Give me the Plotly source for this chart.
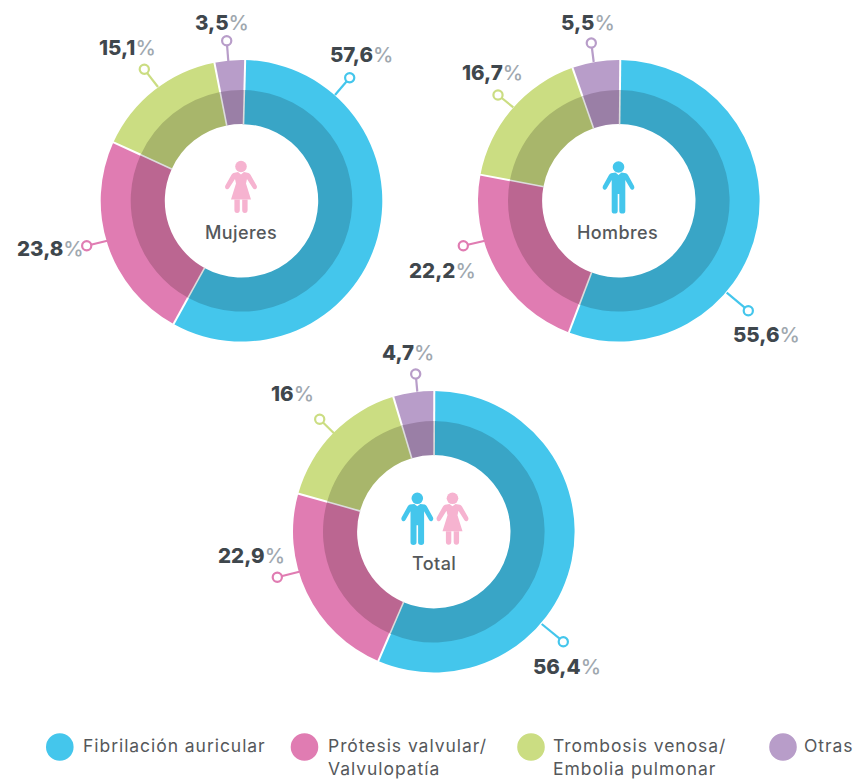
import math
import re
import plotly.graph_objects as go

W, H = 856, 780

categories = ["Fibrilación auricular", "Prótesis valvular/", "Trombosis venosa/", "Otras"]
legend_text = ["Fibrilación auricular", "Prótesis valvular/<br>Valvulopatía",
               "Trombosis venosa/<br>Embolia pulmonar", "Otras"]
mujeres = [57.6, 23.8, 15.1, 3.5]
hombres = [55.6, 22.2, 16.7, 5.5]
total = [56.4, 22.9, 16, 4.7]

OUTER = ["#44c6ec", "#e07cb2", "#cbdd82", "#b89dc9"]
INNER = ["#39a5c6", "#bb6691", "#a8b66b", "#9a7fa6"]
MALE, FEMALE = "#44c6ec", "#f6b3d0"
DARK, PCT, MID = "#3f474d", "#9fa8af", "#55585b"
FONT = "Inter"
R_OUT, R_IN, HOLE = 140.8, 110.8, 76.7

charts = [
    dict(name="Mujeres", vals=mujeres, c=(241.5, 200.8), rot=1.5, name_xy=(240.5, 232),
         icons=[("f", 241, 166.5)],
         labels=[(361, 55), (50, 249), (128, 47), (222, 22)],
         leaders=[((335, 95), (349.7, 77.7)), ((107.3, 240.7), (86.7, 245.7)),
                  ((158, 87), (144.3, 69.3)), ((228.3, 61), (226.7, 40.7))]),
    dict(name="Hombres", vals=hombres, c=(618.8, 200.8), rot=0.6, name_xy=(617.5, 232),
         icons=[("m", 618.5, 167)],
         labels=[(766, 334), (442, 270), (492, 72), (588, 22)],
         leaders=[((726.7, 292.7), (748.3, 310.7)), ((485, 240.7), (463.3, 245.7)),
                  ((513.3, 107.3), (498, 95)), ((593.7, 62), (591.3, 43))]),
    dict(name="Total", vals=total, c=(433.8, 531.7), rot=0.2, name_xy=(434.5, 563),
         icons=[("m", 417.3, 498.3), ("f", 452.5, 498.3)],
         labels=[(567, 666), (252, 555), (292, 393), (408, 353)],
         leaders=[((541.7, 624), (563.3, 641.7)), ((299.3, 571.7), (277.3, 577.3)),
                  ((334, 433.3), (319.7, 419.3)), ((417.3, 391.7), (415.7, 374))]),
]

legend_dots = [59.8, 304.5, 531, 783]
legend_x = [82, 327, 552, 803]
LEG_Y, LEG_R = 747, 13.8


def px(x):
    return x / W


def py(y):
    return 1 - y / H


def path(d, ox, oy):
    """Convert an icon path in pixels relative to (ox, oy) into paper coordinates."""
    return re.sub(
        r"(-?[\d.]+),(-?[\d.]+)",
        lambda m: f"{px(ox + float(m.group(1))):.5f},{py(oy + float(m.group(2))):.5f}",
        d,
    )


FEMALE_BODY = ("M-3,5.6 L0,8 L3,5.6 L7.5,6.5 Q8.8,7 9.5,8.2 L15.6,19 Q16.6,21.4 14.8,22.6 "
               "Q13,23.4 11.8,21.6 L6,12.5 L5,17 L10,33 L-10,33 L-5,17 L-6,12.5 L-11.8,21.6 "
               "Q-13,23.4 -14.8,22.6 Q-16.6,21.4 -15.6,19 L-9.5,8.2 Q-8.8,7 -7.5,6.5 Z")
FEMALE_LEGS = ("M-6.6,33 L-1.2,33 L-1.2,43.5 Q-1.2,46.4 -3.9,46.4 Q-6.6,46.4 -6.6,43.5 Z "
               "M1.2,33 L6.6,33 L6.6,43.5 Q6.6,46.4 3.9,46.4 Q1.2,46.4 1.2,43.5 Z")
MALE_BODY = ("M-3,5.6 L0,8 L3,5.6 L7.5,6.2 Q8.8,6.8 9.5,8 L15.6,19 Q16.6,21.4 14.8,22.6 "
             "Q13,23.4 11.8,21.6 L6.8,13 L6.8,44 Q6.8,46.6 3.9,46.6 Q0.8,46.6 0.8,44 L0.8,27 "
             "L-0.8,27 L-0.8,44 Q-0.8,46.6 -3.9,46.6 Q-6.8,46.6 -6.8,44 L-6.8,13 L-11.8,21.6 "
             "Q-13,23.4 -14.8,22.6 Q-16.6,21.4 -15.6,19 L-9.5,8 Q-8.8,6.8 -7.5,6.2 Z")

fig = go.Figure()
shapes, annotations = [], []


def dom(c, r):
    return dict(x=[px(c[0] - r), px(c[0] + r)], y=[py(c[1] + r), py(c[1] - r)])


def spaced(t, s):
    return "<br>".join(f"<span style='letter-spacing:{s}px'>{p}</span>" for p in t.split("<br>"))


for ch in charts:
    fig.add_trace(go.Pie(
        labels=categories, values=ch["vals"], sort=False, direction="clockwise",
        rotation=ch["rot"], hole=0.7, domain=dom(ch["c"], R_OUT),
        marker=dict(colors=OUTER, line=dict(width=0)),
        textinfo="none", hoverinfo="label+percent", showlegend=False, name=ch["name"],
    ))
    fig.add_trace(go.Pie(
        labels=categories, values=ch["vals"], sort=False, direction="clockwise",
        rotation=ch["rot"], hole=HOLE / R_IN, domain=dom(ch["c"], R_IN),
        marker=dict(colors=INNER, line=dict(width=0)),
        textinfo="none", hoverinfo="label+percent", showlegend=False, name=ch["name"],
    ))

    # slice separators follow the slice boundaries
    cum = 0.0
    for v in ch["vals"]:
        a = math.radians(ch["rot"] + cum / sum(ch["vals"]) * 360)
        cum += v
        sx, sy = math.sin(a), -math.cos(a)
        for r0, r1, col, w in [(R_IN, R_OUT + 0.5, "#ffffff", 2), (HOLE - 0.5, R_IN, "#dcdcdc", 1.6)]:
            shapes.append(dict(type="line", xref="paper", yref="paper",
                               x0=px(ch["c"][0] + r0 * sx), y0=py(ch["c"][1] + r0 * sy),
                               x1=px(ch["c"][0] + r1 * sx), y1=py(ch["c"][1] + r1 * sy),
                               line=dict(color=col, width=w)))

    for i, (v, (lx, ly)) in enumerate(zip(ch["vals"], ch["labels"])):
        txt = f"{v:g}".replace(".", ",")
        annotations.append(dict(
            x=px(lx), y=py(ly), xref="paper", yref="paper", showarrow=False,
            xanchor="center", yanchor="middle",
            text=f"<span style='font-weight:800'>{txt}</span><span style='color:{PCT}'>%</span>",
            font=dict(family=FONT, size=20.5, color=DARK, weight=500),
        ))
    annotations.append(dict(
        x=px(ch["name_xy"][0]), y=py(ch["name_xy"][1]), xref="paper", yref="paper",
        showarrow=False, xanchor="center", yanchor="middle", text=spaced(ch["name"], 0.4),
        font=dict(family=FONT, size=18, color=MID, weight=500),
    ))

    for i, (a, b) in enumerate(ch["leaders"]):
        shapes.append(dict(type="line", xref="paper", yref="paper",
                           x0=px(a[0]), y0=py(a[1]), x1=px(b[0]), y1=py(b[1]),
                           line=dict(color=OUTER[i], width=2.2)))
        r = 4.6
        shapes.append(dict(type="circle", xref="paper", yref="paper",
                           x0=px(b[0] - r), x1=px(b[0] + r), y0=py(b[1] + r), y1=py(b[1] - r),
                           fillcolor="#ffffff", line=dict(color=OUTER[i], width=2.2)))

    for kind, ix, iy in ch["icons"]:
        col = MALE if kind == "m" else FEMALE
        r = 5.8
        shapes.append(dict(type="circle", xref="paper", yref="paper",
                           x0=px(ix - r), x1=px(ix + r), y0=py(iy + r), y1=py(iy - r),
                           fillcolor=col, line=dict(width=0)))
        parts = [MALE_BODY] if kind == "m" else [FEMALE_BODY, FEMALE_LEGS]
        for d in parts:
            shapes.append(dict(type="path", xref="paper", yref="paper",
                               path=path(d, ix, iy), fillcolor=col, line=dict(width=0)))

for i, t in enumerate(legend_text):
    cx = legend_dots[i]
    shapes.append(dict(type="circle", xref="paper", yref="paper",
                       x0=px(cx - LEG_R), x1=px(cx + LEG_R),
                       y0=py(LEG_Y + LEG_R), y1=py(LEG_Y - LEG_R),
                       fillcolor=OUTER[i], line=dict(width=0)))
    annotations.append(dict(
        x=px(legend_x[i]), y=py(734), xref="paper", yref="paper", showarrow=False,
        xanchor="left", yanchor="top", align="left", text=spaced(t, 0.95),
        font=dict(family=FONT, size=17.5, color=MID),
        borderpad=0,
    ))

fig.update_layout(
    width=W, height=H, margin=dict(l=0, r=0, t=0, b=0), autosize=False,
    paper_bgcolor="#ffffff", plot_bgcolor="#ffffff", showlegend=False,
    shapes=shapes, annotations=annotations,
)
fig.write_html("out.html", config={"displayModeBar": False},
               post_script="document.body.style.margin='0';")
